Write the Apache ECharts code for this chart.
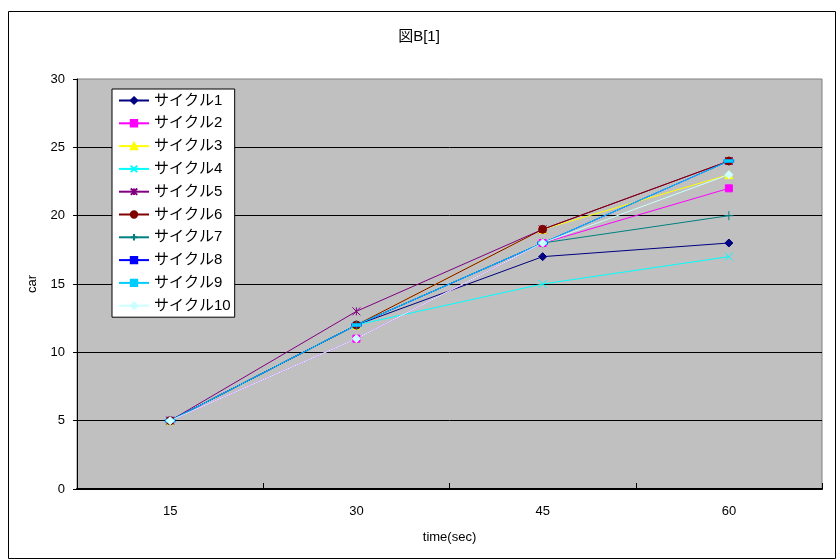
<!DOCTYPE html>
<html>
<head>
<meta charset="utf-8">
<script src="https://cdn.jsdelivr.net/npm/echarts@6/dist/echarts.min.js"></script>
<style>
  html, body { margin: 0; padding: 0; background: #fff; }
  #chart { width: 838px; height: 559px; }
</style>
</head>
<body>
<div id="chart"></div>
<script>
// Time points (seconds) along the x axis
const categories = ['15', '30', '45', '60'];

// Cumulative car counts per signal cycle
const cycle1 = [5, 12, 17, 18];
const cycle2 = [5, 11, 18, 22];
const cycle3 = [5, 12, 19, 23];
const cycle4 = [5, 12, 15, 17];
const cycle5 = [5, 13, 19, 24];
const cycle6 = [5, 12, 19, 24];
const cycle7 = [5, 12, 18, 20];
const cycle8 = [5, 12, 18, 24];
const cycle9 = [5, 12, 18, 24];
const cycle10 = [5, 11, 18, 23];

const seriesNames = ['サイクル1', 'サイクル2', 'サイクル3', 'サイクル4', 'サイクル5',
  'サイクル6', 'サイクル7', 'サイクル8', 'サイクル9', 'サイクル10'];
const seriesData = [cycle1, cycle2, cycle3, cycle4, cycle5, cycle6, cycle7, cycle8, cycle9, cycle10];

const colors = ['#000080', '#FF00FF', '#FFFF00', '#00FFFF', '#800080',
  '#800000', '#008080', '#0000FF', '#00CCFF', '#CCFFFF'];

const symbols = [
  'diamond',
  'rect',
  'triangle',
  'path://M0,0L10,10M10,0L0,10',
  'path://M0,0L10,10M10,0L0,10M5,0L5,10',
  'circle',
  'path://M5,0L5,10M0,5L10,5',
  'path://M0,0L10,0L10,3L0,3Z',
  'path://M0,0L10,0L10,4L0,4Z',
  'diamond'
];
const symbolSizes = [8, 7, 8, 8, 8, 8, 9, [7, 2], [8, 3], 8];

const chart = echarts.init(document.getElementById('chart'));

const series = seriesNames.map((name, i) => ({
  name: name,
  type: 'line',
  data: seriesData[i],
  symbol: symbols[i],
  symbolSize: symbolSizes[i],
  showAllSymbol: true,
  lineStyle: { color: colors[i], width: 1 },
  itemStyle: { color: colors[i], borderColor: colors[i], borderWidth: 1 },
  emphasis: { disabled: true },
  animation: false
}));

chart.setOption({
  animation: false,
  textStyle: { fontFamily: 'Liberation Sans, Arial, sans-serif' },
  title: {
    text: '図B[1]',
    left: 'center',
    top: 24,
    textStyle: { fontSize: 15, fontWeight: 'normal', color: '#000',
      fontFamily: 'Liberation Sans, Noto Sans CJK JP, sans-serif' }
  },
  graphic: [{
    type: 'rect',
    shape: { x: 8.5, y: 11.5, width: 827, height: 547 },
    style: { fill: 'none', stroke: '#000', lineWidth: 1 },
    z: -10
  }],
  grid: {
    left: 77, right: 16, top: 79, bottom: 70,
    show: true,
    backgroundColor: '#C0C0C0',
    borderColor: '#808080',
    borderWidth: 1
  },
  legend: {
    orient: 'vertical',
    left: 112,
    top: 89,
    data: seriesNames,
    backgroundColor: '#fff',
    borderColor: '#000',
    borderWidth: 1,
    padding: [4, 4, 4, 6],
    itemWidth: 30,
    itemHeight: 8,
    itemGap: 7.8,
    lineStyle: { width: 2 },
    textStyle: { fontSize: 15, color: '#000',
      fontFamily: 'Liberation Sans, Noto Sans CJK JP, sans-serif' }
  },
  xAxis: {
    type: 'category',
    data: categories,
    boundaryGap: true,
    name: 'time(sec)',
    nameLocation: 'middle',
    nameGap: 42,
    nameTextStyle: { fontSize: 13, color: '#000' },
    axisLine: { show: true, lineStyle: { color: '#000', width: 2 } },
    axisTick: { show: true, inside: true, length: 6, lineStyle: { color: '#000' } },
    axisLabel: { fontSize: 13, color: '#000', margin: 16 },
    splitLine: { show: false }
  },
  yAxis: {
    type: 'value',
    min: 0,
    max: 30,
    interval: 5,
    name: 'car',
    nameLocation: 'middle',
    nameGap: 38,
    nameRotate: 90,
    nameTextStyle: { fontSize: 13, color: '#000' },
    axisLine: { show: true, lineStyle: { color: '#000', width: 1 } },
    axisTick: { show: true, length: 4, lineStyle: { color: '#000' } },
    axisLabel: { fontSize: 13, color: '#000', margin: 12 },
    splitLine: { show: true, showMaxLine: false, lineStyle: { color: '#000', width: 1 } }
  },
  series: series
});
</script>
</body>
</html>
